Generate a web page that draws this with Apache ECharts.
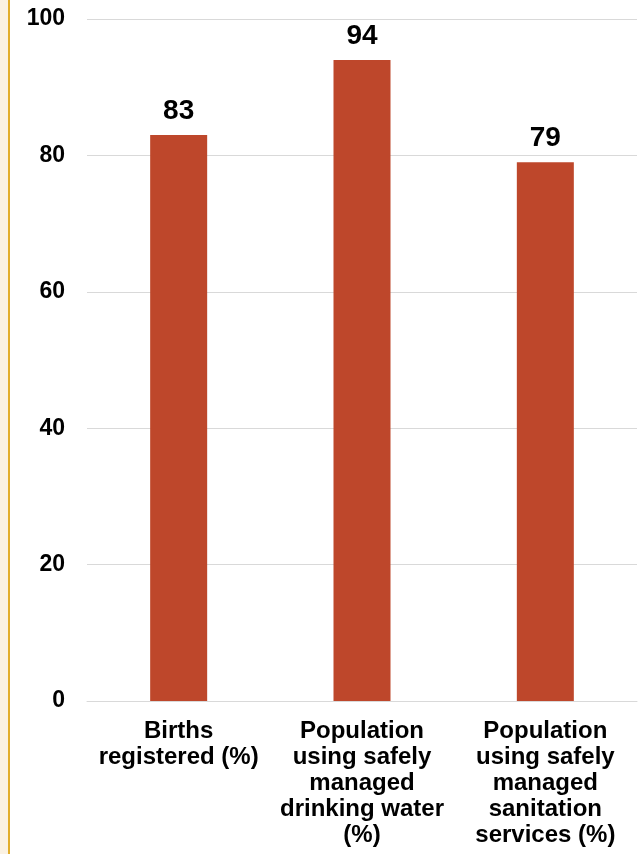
<!DOCTYPE html>
<html><head><meta charset="utf-8">
<script src="https://cdn.jsdelivr.net/npm/echarts@6/dist/echarts.min.js"></script>
<style>html,body{margin:0;padding:0;background:#fff}#c{width:641px;height:854px}</style>
</head><body><div id="c"></div>
<script>
const categories = ["Births\nregistered (%)", "Population\nusing safely\nmanaged\ndrinking water\n(%)", "Population\nusing safely\nmanaged\nsanitation\nservices (%)"];
const values = [83, 94, 79];
const yTicks = [0, 20, 40, 60, 80, 100];

const chart = echarts.init(document.getElementById('c'), null, {renderer: 'canvas'});
chart.setOption({
  animation: false,
  graphic: [
    {type: 'rect', shape: {x: 0, y: 0, width: 8, height: 854}, style: {fill: '#FBF2E2'}, silent: true},
    {type: 'rect', shape: {x: 8, y: 0, width: 2, height: 854}, style: {fill: '#E2AE2C'}, silent: true}
  ],
  grid: {left: 87, right: 4, top: 19, bottom: 153, containLabel: false},
  xAxis: {
    type: 'category',
    data: categories,
    axisLine: {show: true, lineStyle: {color: '#d9d9d9', width: 1}},
    axisTick: {show: false},
    axisLabel: {
      interval: 0, color: '#000', fontFamily: 'Liberation Sans, Arial, sans-serif',
      fontWeight: 'bold', fontSize: 24, lineHeight: 26, margin: 17
    }
  },
  yAxis: {
    type: 'value', min: yTicks[0], max: yTicks[yTicks.length - 1], interval: 20,
    axisLine: {show: false}, axisTick: {show: false},
    splitLine: {lineStyle: {color: '#d9d9d9', width: 1}},
    axisLabel: {color: '#000', fontFamily: 'Liberation Sans, Arial, sans-serif', fontWeight: 'bold', fontSize: 23, margin: 22, padding: [5, 0, 0, 0]}
  },
  series: [{
    type: 'bar', data: values, barWidth: 57,
    itemStyle: {color: '#BE472B'},
    label: {show: true, position: 'top', distance: 10, color: '#000',
      fontFamily: 'Liberation Sans, Arial, sans-serif', fontWeight: 'bold', fontSize: 28}
  }]
});
</script></body></html>
